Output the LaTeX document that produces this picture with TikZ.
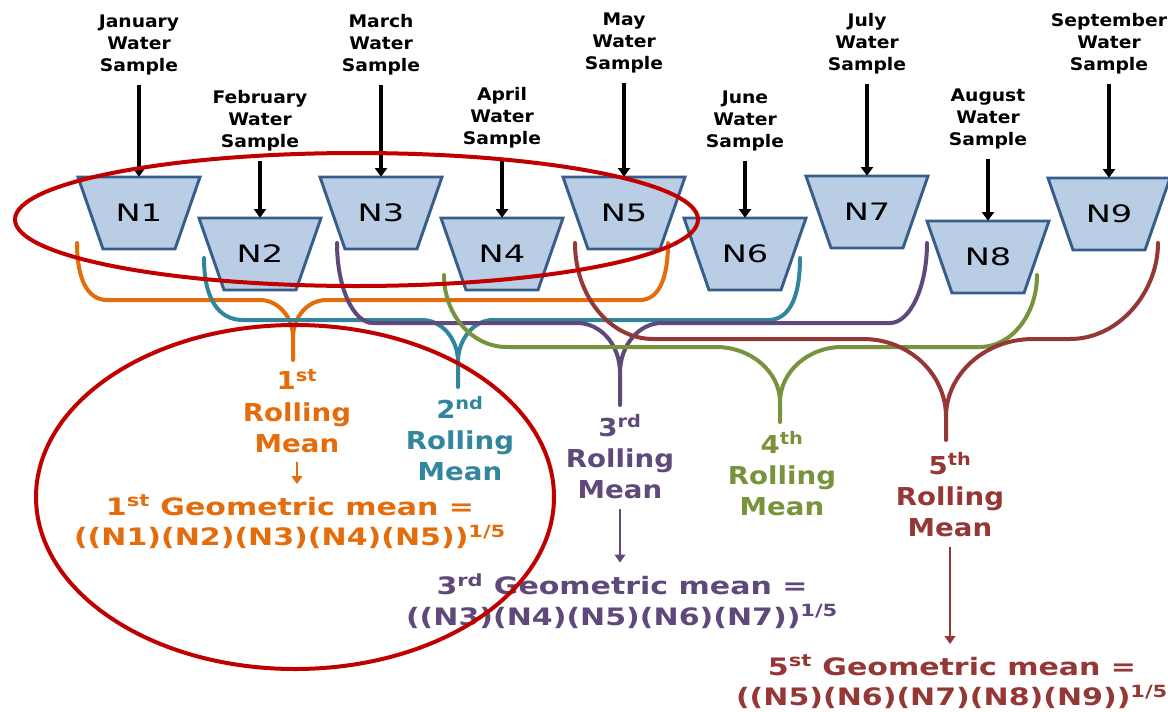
\documentclass[tikz,border=0pt]{standalone}
\usepackage{fontspec}
\setmainfont{DejaVu Sans}
\newfontfamily\mfont{DejaVu Sans}[FakeStretch=1.08]
\newfontfamily\nfont{DejaVu Sans}[FakeStretch=1.4]
\newfontfamily\rfont{DejaVu Sans}[FakeStretch=1.12]
\newfontfamily\gfont{DejaVu Sans}[FakeStretch=1.25]
\usetikzlibrary{arrows.meta}
\definecolor{cOr}{RGB}{228,108,10}
\definecolor{cTe}{RGB}{49,133,156}
\definecolor{cPu}{RGB}{95,73,122}
\definecolor{cGr}{RGB}{119,147,60}
\definecolor{cRd}{RGB}{149,55,53}
\definecolor{cRing}{RGB}{192,0,0}
\definecolor{cTrapF}{RGB}{185,205,229}
\definecolor{cTrapB}{RGB}{56,93,138}
\tikzset{
  trap/.style={draw=cTrapB, fill=cTrapF, line width=2.2pt, line join=miter},
  nlab/.style={font=\nfont\fontsize{18}{20}\selectfont, minimum height=54pt, minimum width=60pt, inner sep=0pt},
  month/.style={font=\mfont\bfseries\fontsize{13}{16.5}\selectfont, align=center, inner sep=0pt},
  marrow/.style={line width=2.6pt, -{Triangle[length=6.5pt,width=9pt]}, shorten <=7pt},
  brace/.style={line width=3pt, line cap=round, line join=round},
  roll/.style={font=\rfont\bfseries\fontsize{18.5}{23.5}\selectfont, align=center, inner sep=0pt},
  geo/.style={font=\gfont\bfseries\fontsize{18}{23}\selectfont, align=center, inner sep=0pt},
  sarrow/.style={line width=1.2pt, -{Triangle[length=6pt,width=8pt]}},
  oval/.style={draw=cRing, line width=3pt},
}
\begin{document}
\begin{tikzpicture}[x=0.75pt,y=-0.75pt]
\useasboundingbox (0,0) rectangle (1168,711);
\fill[white] (0,0) rectangle (1168,711);

% trapezoids
\foreach \i/\x/\y in {1/139/213,2/260/254,3/381/213,4/502/254,5/624/213,6/745/254,7/867/212,8/988/257,9/1109/214}{
  \draw[trap] (\x-61,\y-36) -- (\x+61,\y-36) -- (\x+36,\y+36) -- (\x-36,\y+36) -- cycle;
  \node[nlab] (n\i) at (\x,\y) {N\i};
}

% month labels and arrows
\foreach \i/\x/\y/\m in {1/139/45/January,2/260/121/February,3/381/45/March,4/502/118/April,5/624/43/May,6/745/121/June,7/867/44/July,8/988/119/August,9/1109/44/September}{
  \node[month] (m\i) at (\x,\y) {\m\\Water\\Sample};
  \draw[marrow] (m\i) -- (n\i);
}

% braces
\draw[brace,cOr] (77,243) .. controls (77,280) and (88,300) .. (107,300) -- (260,300) .. controls (278,300) and (293,317) .. (293,337) -- (293,360);
\draw[brace,cOr] (293,337) .. controls (293,317) and (308,300) .. (326,300) -- (640,300) .. controls (658,300) and (668,280) .. (668,243);

\draw[brace,cTe] (204,258) .. controls (204,298) and (218,320) .. (243,320) -- (422,320) .. controls (442,320) and (458,339) .. (458,362) -- (458,387);
\draw[brace,cTe] (458,362) .. controls (458,339) and (474,320) .. (493,320) -- (768,320) .. controls (789,320) and (800,298) .. (800,258);

\draw[brace,cPu] (337,243) .. controls (337,287) and (353,323) .. (373,323) -- (577,323) .. controls (601,323) and (620,345) .. (620,373) -- (620,405);
\draw[brace,cPu] (620,373) .. controls (620,345) and (639,323) .. (662,323) -- (890,323) .. controls (910,323) and (927,287) .. (927,243);

\draw[brace,cGr] (444,275) .. controls (444,315) and (472,347) .. (507,347) -- (716,347) .. controls (751,347) and (780,372) .. (780,402) -- (780,422);
\draw[brace,cGr] (780,402) .. controls (780,372) and (808,347) .. (842,347) -- (980,347) .. controls (1011,347) and (1037,315) .. (1037,275);

\draw[brace,cRd] (575,243) .. controls (575,296) and (610,339) .. (653,339) -- (863,339) .. controls (909,339) and (946,374) .. (946,417) -- (946,440);
\draw[brace,cRd] (946,417) .. controls (946,374) and (985,339) .. (1033,339) -- (1070,339) .. controls (1119,339) and (1158,292) .. (1158,243);

% rolling mean labels
\node[roll,text=cOr] (r1) at (297,411) {1\textsuperscript{st}\\Rolling\\Mean};
\node[roll,text=cTe] (r2) at (460,439) {2\textsuperscript{nd}\\Rolling\\Mean};
\node[roll,text=cPu] (r3) at (620,457) {3\textsuperscript{rd}\\Rolling\\Mean};
\node[roll,text=cGr] (r4) at (782,474) {4\textsuperscript{th}\\Rolling\\Mean};
\node[roll,text=cRd] (r5) at (950,495) {5\textsuperscript{th}\\Rolling\\Mean};

% geometric means
\node[geo,text=cOr] (g1) at (290,522) {1\textsuperscript{st} Geometric mean =\\((N1)(N2)(N3)(N4)(N5))\textsuperscript{1/5}};
\node[geo,text=cPu] (g3) at (622,601) {3\textsuperscript{rd} Geometric mean =\\((N3)(N4)(N5)(N6)(N7))\textsuperscript{1/5}};
\node[geo,text=cRd] (g5) at (952,682) {5\textsuperscript{st} Geometric mean =\\((N5)(N6)(N7)(N8)(N9))\textsuperscript{1/5}};

\draw[sarrow,cOr,shorten <=7pt,shorten >=8pt] (r1.south) -- (r1.south |- g1.north);
\draw[sarrow,cPu,shorten <=7pt,shorten >=8pt] (r3.south) -- (r3.south |- g3.north);
\draw[sarrow,cRd,shorten <=7pt,shorten >=8pt] (r5.south) -- (r5.south |- g5.north);

% red rings
\draw[oval] (356.5,219.5) ellipse [x radius=341.5, y radius=66.5];
\draw[oval] (295,497) ellipse [x radius=259, y radius=172];
\end{tikzpicture}
\end{document}
